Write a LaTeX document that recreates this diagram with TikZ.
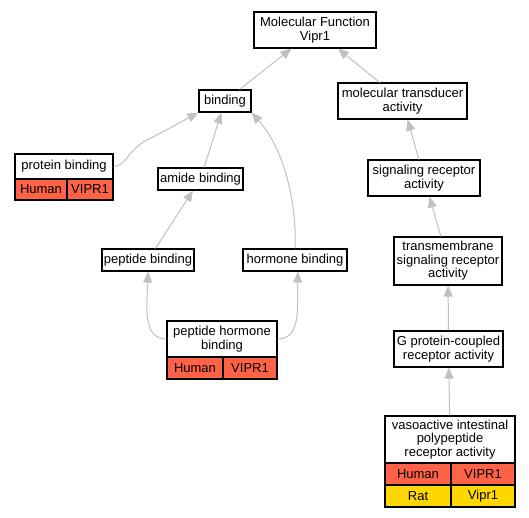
\documentclass[tikz,border=0pt]{standalone}
\usepackage{fontspec}
\setmainfont{Liberation Sans}
\usetikzlibrary{arrows.meta}
\definecolor{gEdge}{HTML}{C0C0C0}
\definecolor{gHuman}{HTML}{FF6347}
\definecolor{gRat}{HTML}{FFD700}
\begin{document}
\begin{tikzpicture}[x=1pt, y=-1pt, >={Triangle[length=11pt, width=9pt]},
      font=\fontsize{13}{13.5}\selectfont,
      term/.style={draw, line width=1.1pt, inner sep=0pt, align=center, minimum height=22pt},
      cell/.style={term, minimum height=22pt},
      edge/.style={->, draw=gEdge, line width=1pt}]
      \useasboundingbox (0,0) rectangle (529,517);
      % GO terms
      \node[term, minimum width=122pt, minimum height=36pt] (mf) at (315,30) {Molecular Function\\Vipr1};
      \node[term, minimum width=52pt] (bind) at (225,101) {binding};
      \node[term, minimum width=129pt, minimum height=36pt] (mta) at (402.5,101) {molecular transducer\\activity};
      \node[term, minimum width=85pt] (amide) at (200.5,179) {amide binding};
      \node[term, minimum width=112pt, minimum height=36pt] (sra) at (424,178) {signaling receptor\\activity};
      \node[term, minimum width=92pt] (pepb) at (148,260) {peptide binding};
      \node[term, minimum width=104pt] (horm) at (295,260) {hormone binding};
      \node[term, minimum width=108pt, minimum height=48pt] (tm) at (448,261) {transmembrane\\signaling receptor\\activity};
      \node[term, minimum width=109pt, minimum height=36pt] (gpcr) at (448.5,349) {G protein-coupled\\receptor activity};
      % annotated terms
      \node[term, fill=white, minimum width=98pt, minimum height=25pt] (prot) at (64,166.5) {protein binding};
      \node[cell, fill=gHuman, minimum width=52pt, minimum height=21pt] (protH) at (41,189.5) {Human};
      \node[cell, fill=gHuman, minimum width=46pt, minimum height=21pt] (protG) at (90,189.5) {VIPR1};
      \node[term, fill=white, minimum width=110pt, minimum height=36pt] (phb) at (222,339) {peptide hormone\\binding};
      \node[cell, fill=gHuman, minimum width=56pt] (phbH) at (195,368) {Human};
      \node[cell, fill=gHuman, minimum width=54pt] (phbG) at (250,368) {VIPR1};
      \node[term, fill=white, minimum width=130pt, minimum height=47pt] (vip) at (450,439.5) {vasoactive intestinal\\polypeptide\\receptor activity};
      \node[cell, fill=gHuman, minimum width=66pt] (vipH) at (418,474) {Human};
      \node[cell, fill=gHuman, minimum width=64pt] (vipG) at (483,474) {VIPR1};
      \node[cell, fill=gRat, minimum width=66pt] (ratH) at (418,496) {Rat};
      \node[cell, fill=gRat, minimum width=64pt] (ratG) at (483,496) {Vipr1};
      % is_a edges
      \draw[edge] (bind) -- (mf);
      \draw[edge] (mta) -- (mf);
      \draw[edge] (amide) -- (bind);
      \draw[edge] (prot.east) .. controls (128,166) and (126,148) .. (155,136) -- (bind.south west);
      \draw[edge] (horm.north) .. controls (297,205) and (285,150) .. (bind.south east);
      \draw[edge] (pepb) -- (amide);
      \draw[edge] (phb.west) .. controls (142,339) and (147,305) .. (pepb.south);
      \draw[edge] (phb.east) .. controls (302,339) and (297,305) .. ([xshift=3pt]horm.south);
      \draw[edge] (sra) -- (mta);
      \draw[edge] (tm) -- (sra);
      \draw[edge] (gpcr) -- (tm);
      \draw[edge] (vip) -- (gpcr);
    \end{tikzpicture}
\end{document}
